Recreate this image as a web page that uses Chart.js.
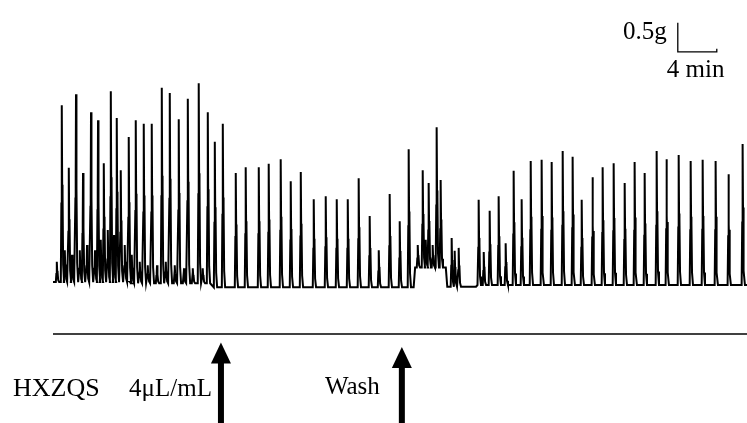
<!DOCTYPE html>
<html>
<head>
<meta charset="utf-8">
<script src="https://cdn.jsdelivr.net/npm/chart.js@4/dist/chart.umd.min.js"></script>
<style>
  html, body { margin: 0; padding: 0; background: #fff; }
  #wrap { width: 747px; height: 423px; position: relative; }
</style>
</head>
<body>
<div id="wrap"><canvas id="trace"></canvas></div>
<script>
// contraction peaks: time (min) and tension (g)
const peakTime = [0.41, 0.92, 1.23, 1.64, 1.95, 2.36, 2.77, 3.08, 3.49, 3.90, 4.31, 4.62, 4.92, 5.23,
  5.64, 5.95, 6.26, 6.56, 6.97, 7.38, 7.79, 8.10, 8.51, 8.92, 9.33, 9.74, 10.15, 10.67, 11.18, 11.59,
  12.00, 12.51, 12.92, 13.44, 13.85, 14.36, 14.97, 15.38, 15.90, 16.62, 17.44, 18.77, 19.79, 21.13,
  22.15, 23.38, 24.41, 25.44, 26.77, 28.00, 29.13, 30.26, 31.38, 32.51, 33.44, 34.56, 35.59, 36.51,
  37.44, 37.95, 38.26, 38.56, 38.97, 39.38, 39.79, 40.92, 41.23, 41.64, 43.69, 44.21, 44.82, 45.74,
  46.46, 47.28, 48.10, 49.03, 50.15, 51.18, 52.31, 53.33, 54.26, 55.38, 56.41, 57.54, 58.67, 59.69,
  60.72, 61.95, 62.97, 64.21, 65.44, 66.67, 68.00, 69.33, 70.77];
const peakHeight = [0.40, 3.10, 0.60, 2.02, 0.52, 3.29, 0.60, 1.93, 0.69, 2.98, 0.60, 2.84, 0.78, 2.10,
  0.95, 3.34, 0.86, 2.88, 1.98, 0.69, 2.55, 0.52, 2.84, 0.40, 2.78, 0.34, 2.78, 0.34, 3.40, 0.40,
  3.31, 0.34, 2.86, 0.29, 3.21, 0.29, 3.48, 0.29, 2.98, 2.47, 2.78, 1.93, 2.03, 2.03,
  2.09, 2.17, 1.79, 1.95, 1.48, 1.53, 1.48, 1.48, 1.84, 1.19, 0.60, 1.57, 1.10, 2.34,
  0.69, 1.98, 0.78, 1.76, 0.69, 2.72, 1.81, 0.81, 0.59, 0.64, 1.47, 0.57, 1.28, 1.53,
  0.72, 1.97, 1.48, 2.14, 2.16, 2.12, 2.31, 2.21, 1.47, 1.86, 2.03, 2.10, 1.76, 2.12,
  1.93, 2.31, 2.17, 2.24, 2.14, 2.16, 2.14, 1.91, 2.43];
// resting tension between contractions
const baseTime = [0, 7.9, 16.6, 37.0, 40.3, 43.4];
const baseLevel = [0.05, 0.03, -0.04, 0.3, -0.03, 0.0];
const endTime = 71.2;

// drug additions
const eventTime = [17.23, 35.79];
const eventLabel = ["4μL/mL", "Wash"];

// shape of one twitch: [offset min, fraction of rise]
const spikeShape = [[-0.12, 0], [-0.06, 0.45], [-0.04, 0.3], [-0.02, 0.55], [0, 1], [0.02, 0.55],
  [0.05, 0.35], [0.07, 0.5], [0.12, 0.1], [0.22, 0]];

function baseAt(t) {
  let b = baseLevel[0];
  for (let i = 0; i < baseTime.length; i++) if (t >= baseTime[i]) b = baseLevel[i];
  return b;
}

const trace = [{ x: 0, y: baseAt(0) }];
let last = 0;
peakTime.forEach((t, i) => {
  // resting-level changes that happen before this twitch
  baseTime.forEach((k, j) => {
    if (j > 0 && k > last && k <= t - 0.12) {
      trace.push({ x: k, y: baseLevel[j - 1] }, { x: k + 0.15, y: baseLevel[j] });
    }
  });
  const b = baseAt(t);
  spikeShape.forEach(([dt, f]) => trace.push({ x: t + dt, y: b + f * (peakHeight[i] - b) }));
  last = t;
});
trace.push({ x: endTime, y: baseAt(endTime) });

const serif = "'Liberation Serif', 'DejaVu Serif', serif";

const marks = {
  id: "marks",
  afterDraw(chart) {
    const ctx = chart.ctx, xs = chart.scales.x, ys = chart.scales.y;
    ctx.save();
    ctx.strokeStyle = "#000";
    ctx.fillStyle = "#000";

    // scale bar 0.5 g / 4 min
    const sx = xs.getPixelForValue(64.1), sy = ys.getPixelForValue(4.02);
    const sTop = ys.getPixelForValue(4.52), sRight = xs.getPixelForValue(68.1);
    ctx.lineWidth = 1.3;
    ctx.beginPath();
    ctx.moveTo(sx, sTop); ctx.lineTo(sx, sy); ctx.lineTo(sRight, sy); ctx.lineTo(sRight, sy - 3);
    ctx.stroke();
    ctx.font = "25px " + serif;
    ctx.textAlign = "right"; ctx.textBaseline = "alphabetic";
    ctx.fillText("0.5g", sx - 11, 39);
    ctx.textAlign = "left";
    ctx.fillText("4 min", sx - 11, 77);

    // event line
    const ly = ys.getPixelForValue(-0.845);
    ctx.lineWidth = 1.5;
    ctx.beginPath();
    ctx.moveTo(xs.getPixelForValue(0), ly); ctx.lineTo(xs.getPixelForValue(endTime), ly);
    ctx.stroke();

    // arrows
    const tips = [-0.99, -1.07];
    ctx.font = "25px " + serif;
    eventTime.forEach((t, i) => {
      const px = xs.getPixelForValue(t), tip = ys.getPixelForValue(tips[i]);
      ctx.fillRect(px - 3, tip + 18, 6, chart.height - tip - 18);
      ctx.beginPath();
      ctx.moveTo(px, tip); ctx.lineTo(px - 10, tip + 21); ctx.lineTo(px + 10, tip + 21);
      ctx.closePath(); ctx.fill();
      ctx.textAlign = "right";
      ctx.fillText(eventLabel[i], px - (i === 0 ? 9 : 22), i === 0 ? 396 : 394);
    });
    ctx.textAlign = "left";
    ctx.font = "26px " + serif;
    ctx.fillText("HXZQS", 13, 396);
    ctx.restore();
  }
};

new Chart(document.getElementById("trace"), {
  type: "line",
  data: {
    datasets: [{
      data: trace,
      borderColor: "#000",
      borderWidth: 2,
      pointRadius: 0,
      tension: 0,
      fill: false
    }]
  },
  options: {
    responsive: true,
    maintainAspectRatio: false,
    animation: false,
    layout: { padding: { left: 53, right: 0, top: 0, bottom: 0 } },
    plugins: { legend: { display: false }, tooltip: { enabled: false } },
    scales: {
      x: { type: "linear", display: false, min: 0, max: endTime },
      y: { display: false, min: -2.379, max: 4.914 }
    }
  },
  plugins: [marks]
});
</script>
</body>
</html>
